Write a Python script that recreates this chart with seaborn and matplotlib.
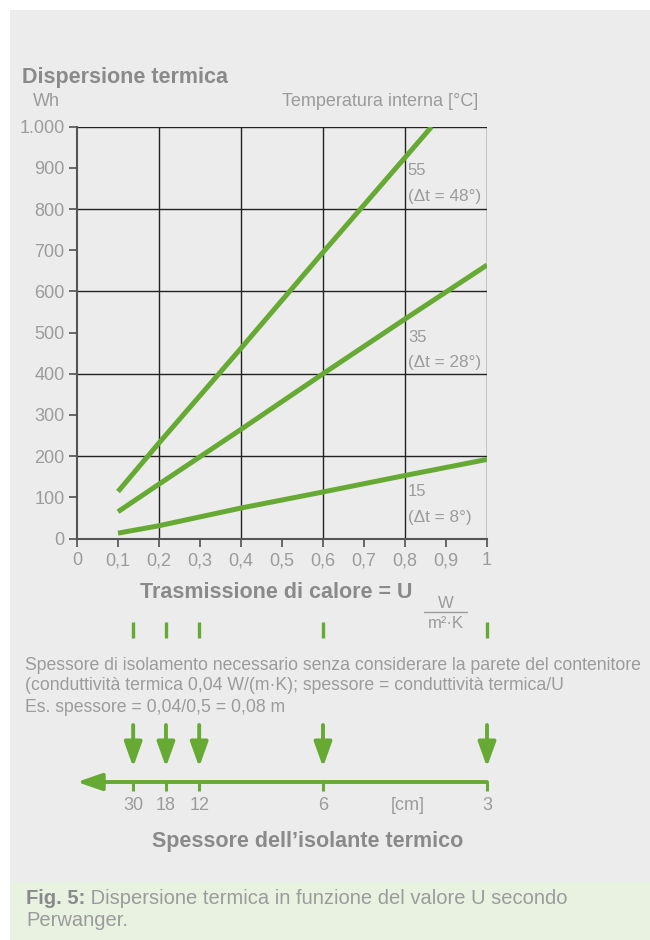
import numpy as np
import pandas as pd
import matplotlib.pyplot as plt
import seaborn as sns
from matplotlib.patches import Rectangle

# heat loss (Wh) against U value, one curve per internal temperature
u_55 = [0.1, 0.2, 0.4, 0.6, 0.8, 0.865]
wh_55 = [114, 232, 462, 695, 925, 1000]
u_35 = [0.1, 0.2, 0.4, 0.6, 0.8, 1.0]
wh_35 = [65, 132, 265, 400, 533, 664]
u_15 = [0.1, 0.2, 0.4, 0.6, 0.8, 1.0]
wh_15 = [13, 31, 74, 113, 153, 192]

temp_labels = ["55", "35", "15"]
delta_labels = ["(Δt = 48°)", "(Δt = 28°)", "(Δt = 8°)"]
label_u = [0.807, 0.807, 0.807]
label_wh = [893, 489, 114]

x_ticks = [0, 0.1, 0.2, 0.3, 0.4, 0.5, 0.6, 0.7, 0.8, 0.9, 1.0]
x_tick_labels = ["0", "0,1", "0,2", "0,3", "0,4", "0,5", "0,6", "0,7", "0,8", "0,9", "1"]
y_ticks = [0, 100, 200, 300, 400, 500, 600, 700, 800, 900, 1000]
y_tick_labels = ["0", "100", "200", "300", "400", "500", "600", "700", "800", "900", "1.000"]
grid_u = [0.2, 0.4, 0.6, 0.8, 1.0]
grid_wh = [200, 400, 600, 800, 1000]

# insulation thickness scale (cm) placed under the U axis
thick_u = [0.137, 0.217, 0.298, 0.6, 1.0]
thick_cm = ["30", "18", "12", "6", "3"]

GREEN = "#66aa33"
TXT = "#9b9b9b"
BOLD = "#8a8a8a"

df = pd.concat([
    pd.DataFrame({"U": u_55, "Wh": wh_55, "T": "55"}),
    pd.DataFrame({"U": u_35, "Wh": wh_35, "T": "35"}),
    pd.DataFrame({"U": u_15, "Wh": wh_15, "T": "15"}),
])

sns.set_theme(style="white")
plt.rcParams["font.family"] = ["Liberation Sans", "DejaVu Sans"]

fig = plt.figure(figsize=(6.5, 9.4), dpi=100, facecolor="white")

# background panel + caption box, in pixel coordinates
bg = fig.add_axes([0, 0, 1, 1], zorder=0)
bg.set_xlim(0, 650)
bg.set_ylim(940, 0)
bg.axis("off")
bg.add_patch(Rectangle((10, 10), 640, 872, color="#ececec", lw=0))
bg.add_patch(Rectangle((10, 882), 640, 58, color="#e9f2e1", lw=0))

bg.text(22, 78, "Dispersione termica", fontsize=15.5, fontweight="bold", color=BOLD, va="center")
bg.text(60, 102, "Wh", fontsize=13, color=TXT, va="center", ha="right")
bg.text(478, 102, "Temperatura interna [°C]", fontsize=13, color=TXT, va="center", ha="right")
bg.text(276, 592, "Trasmissione di calore = U", fontsize=15.5, fontweight="bold", color=BOLD,
        va="center", ha="center")
bg.text(446, 603, "W", fontsize=12, color=TXT, va="center", ha="center")
bg.plot([424, 467], [612, 612], color=TXT, lw=1)
bg.text(446, 623, "m²·K", fontsize=12, color=TXT, va="center", ha="center")

para = [
    "Spessore di isolamento necessario senza considerare la parete del contenitore",
    "(conduttività termica 0,04 W/(m·K); spessore = conduttività termica/U",
    "Es. spessore = 0,04/0,5 = 0,08 m",
]
for i, line in enumerate(para):
    bg.text(25, 665 + i * 21, line, fontsize=12.7, color=TXT, va="center")

bg.text(308, 842, "Spessore dell\u2019isolante termico", fontsize=15.5, fontweight="bold",
        color=BOLD, va="center", ha="center")

fig_b = bg.text(26, 898, "Fig. 5:", fontsize=14.5, fontweight="bold", color=BOLD, va="center")
bg.annotate(" Dispersione termica in funzione del valore U secondo", xy=(1, 0), xycoords=fig_b,
            fontsize=14.5, color=TXT, va="bottom", ha="left")
bg.text(26, 920, "Perwanger.", fontsize=14.5, color=TXT, va="center")

# main chart
ax = fig.add_axes([77 / 650, 1 - 538.5 / 940, 410 / 650, 411.8 / 940], zorder=2)
ax.patch.set_alpha(0)
for g in grid_u:
    ax.axvline(g, color="#222222", lw=1.0, zorder=1)
for g in grid_wh:
    ax.axhline(g, color="#222222", lw=1.0, zorder=1)

sns.lineplot(data=df, x="U", y="Wh", hue="T", palette=[GREEN] * 3, estimator=None,
             legend=False, lw=3.6, ax=ax, zorder=3, solid_capstyle="butt")

for u, w, t, d in zip(label_u, label_wh, temp_labels, delta_labels):
    ax.text(u, w, t, fontsize=12, color=TXT, va="center", ha="left")
    ax.annotate(d, xy=(u, w), xytext=(0, -18.5), textcoords="offset points",
                fontsize=12.3, color=TXT, va="center", ha="left")

ax.set_xlim(0, 1)
ax.set_ylim(0, 1000)
ax.set_xticks(x_ticks)
ax.set_xticklabels(x_tick_labels)
ax.set_yticks(y_ticks)
ax.set_yticklabels(y_tick_labels)
ax.set_xlabel("")
ax.set_ylabel("")
ax.tick_params(axis="both", direction="out", length=6, width=1.1, color="#444444",
               labelsize=13, labelcolor=TXT, bottom=True, left=True)
ax.tick_params(axis="x", pad=4)
ax.tick_params(axis="y", pad=3)
for s in ["top", "right"]:
    ax.spines[s].set_visible(False)
for s in ["left", "bottom"]:
    ax.spines[s].set_color("#555555")
    ax.spines[s].set_linewidth(1.5)

# thickness scale with arrows
ax2 = fig.add_axes([77 / 650, 1 - 870 / 940, 410 / 650, 260 / 940], zorder=2)
ax2.set_xlim(0, 1)
ax2.set_ylim(870, 610)
ax2.axis("off")

ax2.vlines(thick_u, 622, 638, color=GREEN, lw=2.4, clip_on=False)
for u in thick_u:
    ax2.annotate("", xy=(u, 767), xytext=(u, 725),
                 arrowprops=dict(arrowstyle="-|>,head_length=15,head_width=5.4",
                                 mutation_scale=1, lw=2.8, color=GREEN,
                                 shrinkA=0, shrinkB=0))
ax2.annotate("", xy=(0.0, 782), xytext=(1.0, 782),
             arrowprops=dict(arrowstyle="-|>,head_length=15,head_width=5.2",
                             mutation_scale=1, lw=2.8, color=GREEN,
                             shrinkA=0, shrinkB=0))
ax2.vlines(thick_u, 782, 791, color=GREEN, lw=2.2, clip_on=False)
for u, t in zip(thick_u, thick_cm):
    ax2.text(u, 805, t, fontsize=13, color=TXT, ha="center", va="center")
ax2.text(0.807, 805, "[cm]", fontsize=13, color=TXT, ha="center", va="center")

fig.savefig("out.png", dpi=100, facecolor="white")
